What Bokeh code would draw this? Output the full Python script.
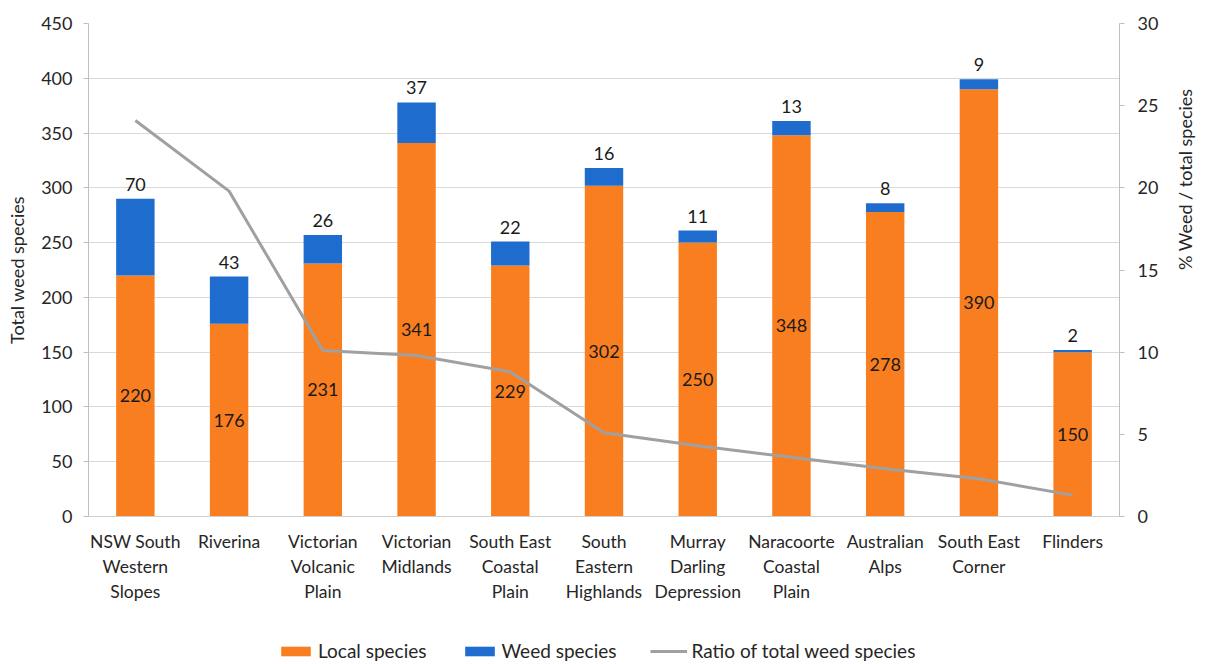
import math
from bokeh.plotting import figure
from bokeh.models import (ColumnDataSource, Range1d, LinearAxis, Legend, LegendItem,
                          FactorRange, SingleIntervalTicker, LabelSet)
from bokeh.layouts import column
from bokeh.core.properties import value
from bokeh.embed import file_html
from bokeh.resources import INLINE

regions = ["NSW South\nWestern\nSlopes", "Riverina", "Victorian\nVolcanic\nPlain",
           "Victorian\nMidlands", "South East\nCoastal\nPlain", "South\nEastern\nHighlands",
           "Murray\nDarling\nDepression", "Naracoorte\nCoastal\nPlain", "Australian\nAlps",
           "South East\nCorner", "Flinders"]
local_species = [220, 176, 231, 341, 229, 302, 250, 348, 278, 390, 150]
weed_species = [70, 43, 26, 37, 22, 16, 11, 13, 8, 9, 2]
ratio_pct = [24.1, 19.8, 10.1, 9.8, 8.8, 5.1, 4.3, 3.6, 2.9, 2.3, 1.3]

FONT = "Lato"
FS = "18px"
ORANGE = "#F97E20"
BLUE = "#1E6CCD"
GREY = "#A0A0A0"
TXT = "#262626"
W = 1210
FRAME_L, FRAME_R = 88, 1125

totals = [l + w for l, w in zip(local_species, weed_species)]
src = ColumnDataSource(dict(
    region=regions, local=local_species, weed=weed_species, ratio=ratio_pct,
    total=totals, local_mid=[l / 2 for l in local_species],
    local_lbl=[str(v) for v in local_species], weed_lbl=[str(v) for v in weed_species],
))

p = figure(width=W, height=620, x_range=FactorRange(*regions), y_range=Range1d(0, 450),
           output_backend="svg", toolbar_location=None,
           min_border_left=FRAME_L, min_border_right=W - FRAME_R,
           min_border_top=23, min_border_bottom=104)
p.outline_line_color = None
p.extra_y_ranges = {"pct": Range1d(0, 30)}

bars = p.vbar_stack(["local", "weed"], x="region", width=0.41, source=src,
                    color=[ORANGE, BLUE], line_color=None)
ln = p.line(x="region", y="ratio", source=src, y_range_name="pct",
            line_color=GREY, line_width=3)

p.add_layout(LabelSet(x="region", y="local_mid", text="local_lbl", source=src,
                      text_align="center", text_baseline="middle",
                      text_font=value(FONT), text_font_size=FS, text_color="#1a1a1a"))
p.add_layout(LabelSet(x="region", y="total", text="weed_lbl", source=src,
                      text_align="center", text_baseline="bottom", y_offset=8,
                      text_font=value(FONT), text_font_size=FS, text_color="#1a1a1a"))

# left axis
ax = p.yaxis[0]
ax.ticker = SingleIntervalTicker(interval=50)
ax.axis_label = "Total weed species"
ax.major_label_standoff = 11
ax.axis_label_standoff = 10

# right axis
ra = LinearAxis(y_range_name="pct", axis_label="% Weed / total species",
                ticker=SingleIntervalTicker(interval=5))
ra.major_label_standoff = 13
ra.axis_label_standoff = 24
try:
    ra.axis_label_orientation = math.pi / 2
except Exception:
    pass
p.add_layout(ra, "right")

for a in [ax, ra]:
    a.minor_tick_line_color = None
    a.major_tick_out = 5
    a.major_tick_in = 0
    a.axis_line_color = "#BFBFBF"
    a.major_tick_line_color = "#BFBFBF"
    a.major_label_text_font = FONT
    a.major_label_text_font_size = FS
    a.major_label_text_color = TXT
    a.axis_label_text_font = FONT
    a.axis_label_text_font_size = FS
    a.axis_label_text_font_style = "normal"
    a.axis_label_text_color = TXT

xa = p.xaxis[0]
xa.major_label_text_font = FONT
xa.major_label_text_font_size = "17.5px"
xa.major_label_text_color = TXT
xa.major_tick_line_color = None
xa.axis_line_color = "#D0D0D0"
xa.major_label_standoff = 8

p.xgrid.grid_line_color = None
p.ygrid.grid_line_color = "#D9D9D9"
p.ygrid.ticker = SingleIntervalTicker(interval=50)

# legend strip below the chart (legend-only renderers: zero-width bars, line kept out of view)
lg = figure(width=W, height=42, x_range=FactorRange(*regions), y_range=Range1d(-2, -1),
            output_backend="svg", toolbar_location=None,
            x_axis_type=None, y_axis_type=None,
            min_border_left=0, min_border_right=0, min_border_top=0, min_border_bottom=0)
lg.outline_line_color = None
lg.grid.grid_line_color = None
lbars = lg.vbar_stack(["local", "weed"], x="region", width=0.0, source=src,
                      color=[ORANGE, BLUE], line_color=None)
lline = lg.line(x="region", y="ratio", source=src, line_color=GREY, line_width=3)
legend = Legend(items=[LegendItem(label="Local species", renderers=[lbars[0]]),
                       LegendItem(label="Weed species", renderers=[lbars[1]]),
                       LegendItem(label="Ratio of total weed species", renderers=[lline])],
                orientation="horizontal", location=(277 - FRAME_L, 0),
                label_text_font=FONT, label_text_font_size="19px", label_text_color=TXT,
                glyph_width=37, glyph_height=12, label_standoff=4, spacing=34,
                padding=0, margin=0, border_line_color=None, background_fill_alpha=0)
lg.add_layout(legend, "center")

layout = column(p, lg, spacing=0)
open("out.html", "w").write(file_html(layout, INLINE))
